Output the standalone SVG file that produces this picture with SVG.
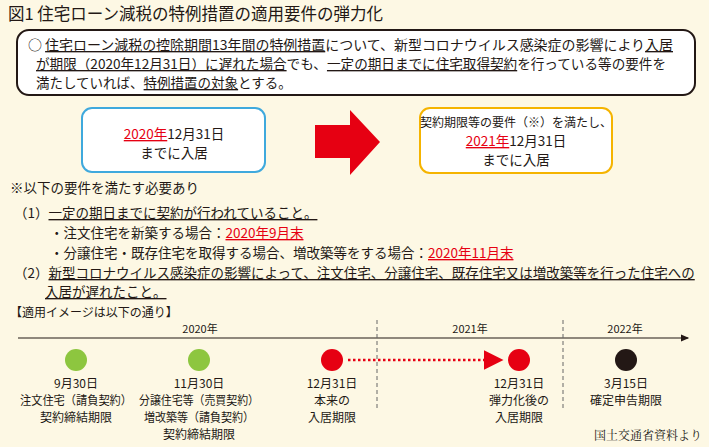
<svg xmlns="http://www.w3.org/2000/svg" width="709" height="447" viewBox="0 0 709 447">
<style>
text{font-family:"Noto Sans CJK JP","Noto Sans CJK SC",sans-serif;fill:#231815}
.t{font-size:13.5px}
.s{font-size:12px}
.u{text-decoration:underline}
.r{fill:#e60012}
.m{text-anchor:middle}
</style>
<defs><marker id="ah" markerWidth="8" markerHeight="8" refX="6" refY="4" orient="auto"><path d="M0,1 L7,4 L0,7z" fill="#231815"/></marker>
<marker id="rh" markerWidth="8" markerHeight="8" refX="5" refY="4" orient="auto"><path d="M0,0 L8,4 L0,8z" fill="#e60012"/></marker></defs>
<rect width="709" height="447" fill="#fdf8e4"/>
<text x="8" y="20" style="font-size:16.5px">図1  住宅ローン減税の特例措置の適用要件の弾力化</text>
<g id="summary">
<rect x="17" y="30" width="678" height="65" rx="12" fill="#fff" stroke="#231815" stroke-width="2"/>
<text class="t" x="28" y="50" textLength="645" lengthAdjust="spacingAndGlyphs">○ <tspan class="u">住宅ローン減税の控除期間13年間の特例措置</tspan>について、新型コロナウイルス感染症の影響により<tspan class="u">入居</tspan></text>
<text class="t" x="36" y="69" textLength="630" lengthAdjust="spacingAndGlyphs"><tspan class="u">が期限（2020年12月31日）に遅れた場合</tspan>でも、<tspan class="u">一定の期日までに住宅取得契約</tspan>を行っている等の要件を</text>
<text class="t" x="36" y="88">満たしていれば、<tspan class="u">特例措置の対象</tspan>とする。</text>
</g>
<g id="before">
<rect x="82" y="108" width="183" height="64" rx="10" fill="#fff" stroke="#3fa9dd" stroke-width="2"/>
<text class="t m" x="174" y="139"><tspan class="r u">2020年</tspan>12月31日</text>
<text class="t m" x="174" y="158">までに入居</text>
</g>
<g id="connectors">
<path d="M315,125 H350 V110 L380,142 L350,175 V158 H315z" fill="#e60012"/>
<line x1="18" y1="338" x2="688" y2="338" stroke="#231815" stroke-width="1.2" marker-end="url(#ah)"/>
<line x1="377" y1="320" x2="377" y2="410" stroke="#666" stroke-dasharray="4,3"/>
<line x1="563" y1="320" x2="563" y2="410" stroke="#666" stroke-dasharray="4,3"/>
<line x1="348" y1="360" x2="496" y2="360" stroke="#e60012" stroke-width="2.5" stroke-dasharray="2.5,2.5" marker-end="url(#rh)"/>
</g>
<g id="after">
<rect x="420" y="108" width="192" height="65" rx="10" fill="#fff" stroke="#f5b400" stroke-width="2"/>
<text class="s m" x="516" y="127">契約期限等の要件（※）を満たし、</text>
<text class="t m" x="516" y="146"><tspan class="r u">2021年</tspan>12月31日</text>
<text class="t m" x="516" y="165">までに入居</text>
</g>
<g id="requirements">
<text class="t" x="10" y="193">※以下の要件を満たす必要あり</text>
<text class="t" x="14" y="218">（1）<tspan class="u">一定の期日までに契約が行われていること。</tspan></text>
<text class="t" x="50" y="238">・注文住宅を新築する場合：<tspan class="r u">2020年9月末</tspan></text>
<text class="t" x="50" y="258">・分譲住宅・既存住宅を取得する場合、増改築等をする場合：<tspan class="r u">2020年11月末</tspan></text>
<text class="t" x="14" y="278">（2）<tspan class="u">新型コロナウイルス感染症の影響によって、注文住宅、分譲住宅、既存住宅又は増改築等を行った住宅への</tspan></text>
<text class="t u" x="45" y="297">入居が遅れたこと。</text>
</g>
<text class="s" x="10" y="317">【適用イメージは以下の通り】</text>
<text class="m" x="200" y="333" style="font-size:11px">2020年</text>
<text class="m" x="470" y="333" style="font-size:11px">2021年</text>
<text class="m" x="625" y="333" style="font-size:11px">2022年</text>
<g id="e1"><circle cx="76" cy="360" r="11" fill="#8dc63f"/>
<text class="s m" x="76" y="388">9月30日</text><text class="s m" x="76" y="405" textLength="112" lengthAdjust="spacingAndGlyphs">注文住宅（請負契約）</text><text class="s m" x="76" y="422">契約締結期限</text></g>
<g id="e2"><circle cx="199" cy="360" r="11" fill="#8dc63f"/>
<text class="s m" x="199" y="388">11月30日</text><text class="s m" x="199" y="405" textLength="120" lengthAdjust="spacingAndGlyphs">分譲住宅等（売買契約）</text><text class="s m" x="199" y="422" textLength="110" lengthAdjust="spacingAndGlyphs">増改築等（請負契約）</text><text class="s m" x="199" y="439">契約締結期限</text></g>
<g id="e3"><circle cx="332" cy="360" r="11" fill="#e60012"/>
<text class="s m" x="332" y="388">12月31日</text><text class="s m" x="332" y="405">本来の</text><text class="s m" x="332" y="422">入居期限</text></g>
<g id="e4"><circle cx="519" cy="360" r="11" fill="#e60012"/>
<text class="s m" x="519" y="388">12月31日</text><text class="s m" x="519" y="405">弾力化後の</text><text class="s m" x="519" y="422">入居期限</text></g>
<g id="e5"><circle cx="626" cy="360" r="11" fill="#231815"/>
<text class="s m" x="626" y="388">3月15日</text><text class="s m" x="626" y="405">確定申告期限</text></g>
<text x="702" y="440" style="font-family:'Noto Serif CJK JP','Liberation Serif',serif;font-size:12px;text-anchor:end">国土交通省資料より</text>
</svg>
